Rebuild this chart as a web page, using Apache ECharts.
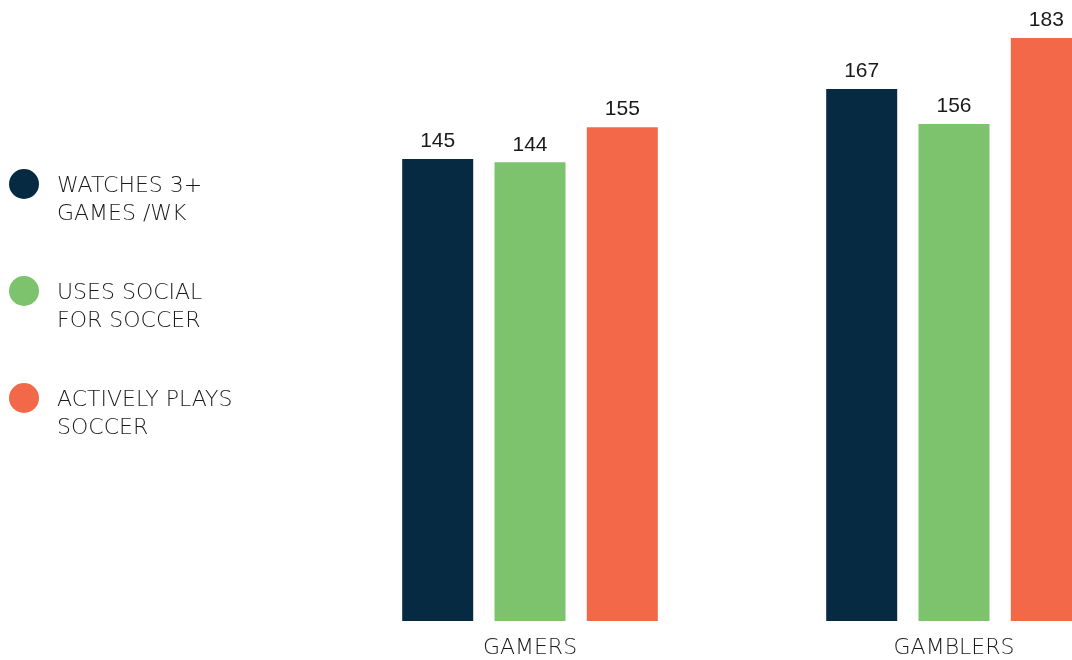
<!DOCTYPE html>
<html>
<head>
<meta charset="utf-8">
<style>
  html, body { margin: 0; padding: 0; background: #ffffff; overflow: hidden; }
  /* The plot runs past the right edge of the window, so the last bar is cut off */
  #chart { width: 1166px; height: 660px; }
</style>
<script src="https://cdn.jsdelivr.net/npm/echarts@6/dist/echarts.min.js"></script>
</head>
<body>
<div id="chart"></div>
<script>
// Audience segments on the x axis
const categories = ['GAMERS', 'GAMBLERS'];

// Index values per behaviour
const seriesNames = ['WATCHES 3+\nGAMES /WK', 'USES SOCIAL\nFOR SOCCER', 'ACTIVELY PLAYS\nSOCCER'];
const watchesValues = [145, 167];
const socialValues = [144, 156];
const playsValues = [155, 183];

const colors = ['#072a43', '#7dc36e', '#f26849'];
const textFont = 'DejaVu Sans';

const chart = echarts.init(document.getElementById('chart'), null, { renderer: 'canvas' });

function barSeries(name, values, color) {
  return {
    name: name,
    type: 'bar',
    data: values,
    barWidth: 71,
    barGap: '30%',
    itemStyle: { color: color },
    label: {
      show: true,
      position: 'top',
      distance: 7,
      color: '#1a1a1a',
      fontFamily: 'Liberation Sans',
      fontSize: 21,
      fontWeight: 500
    }
  };
}

// Legend labels sit below the marker's centre: an empty spacer line pushes them down
function legendLabel(name) {
  const lines = name.split('\n').map(function (l) { return '{t|' + l + '}'; });
  return '{s| }\n' + lines.join('\n');
}

chart.setOption({
  backgroundColor: '#ffffff',
  animation: false,
  color: colors,
  legend: {
    orient: 'vertical',
    left: 4,
    top: 146,
    icon: 'circle',
    itemWidth: 30,
    itemHeight: 30,
    itemGap: 33,
    selectedMode: false,
    data: seriesNames,
    formatter: legendLabel,
    textStyle: {
      color: '#1a1a1a',
      fontFamily: textFont,
      fontWeight: 300,
      fontSize: 22,
      padding: [0, 0, 0, 13],
      rich: {
        s: { fontSize: 10, lineHeight: 32 },
        t: {
          color: '#1a1a1a',
          fontFamily: textFont,
          fontWeight: 300,
          fontSize: 22,
          lineHeight: 28
        }
      }
    }
  },
  grid: {
    left: 318,
    top: 38,
    right: 0,
    bottom: 39,
    containLabel: false
  },
  xAxis: {
    type: 'category',
    data: categories,
    axisLine: { show: false },
    axisTick: { show: false },
    axisLabel: {
      margin: 16,
      color: '#1a1a1a',
      fontFamily: textFont,
      fontWeight: 300,
      fontSize: 22
    }
  },
  yAxis: {
    type: 'value',
    min: 0,
    max: 183,
    show: false,
    splitLine: { show: false }
  },
  series: [
    barSeries(seriesNames[0], watchesValues, colors[0]),
    barSeries(seriesNames[1], socialValues, colors[1]),
    barSeries(seriesNames[2], playsValues, colors[2])
  ]
});
</script>
</body>
</html>
